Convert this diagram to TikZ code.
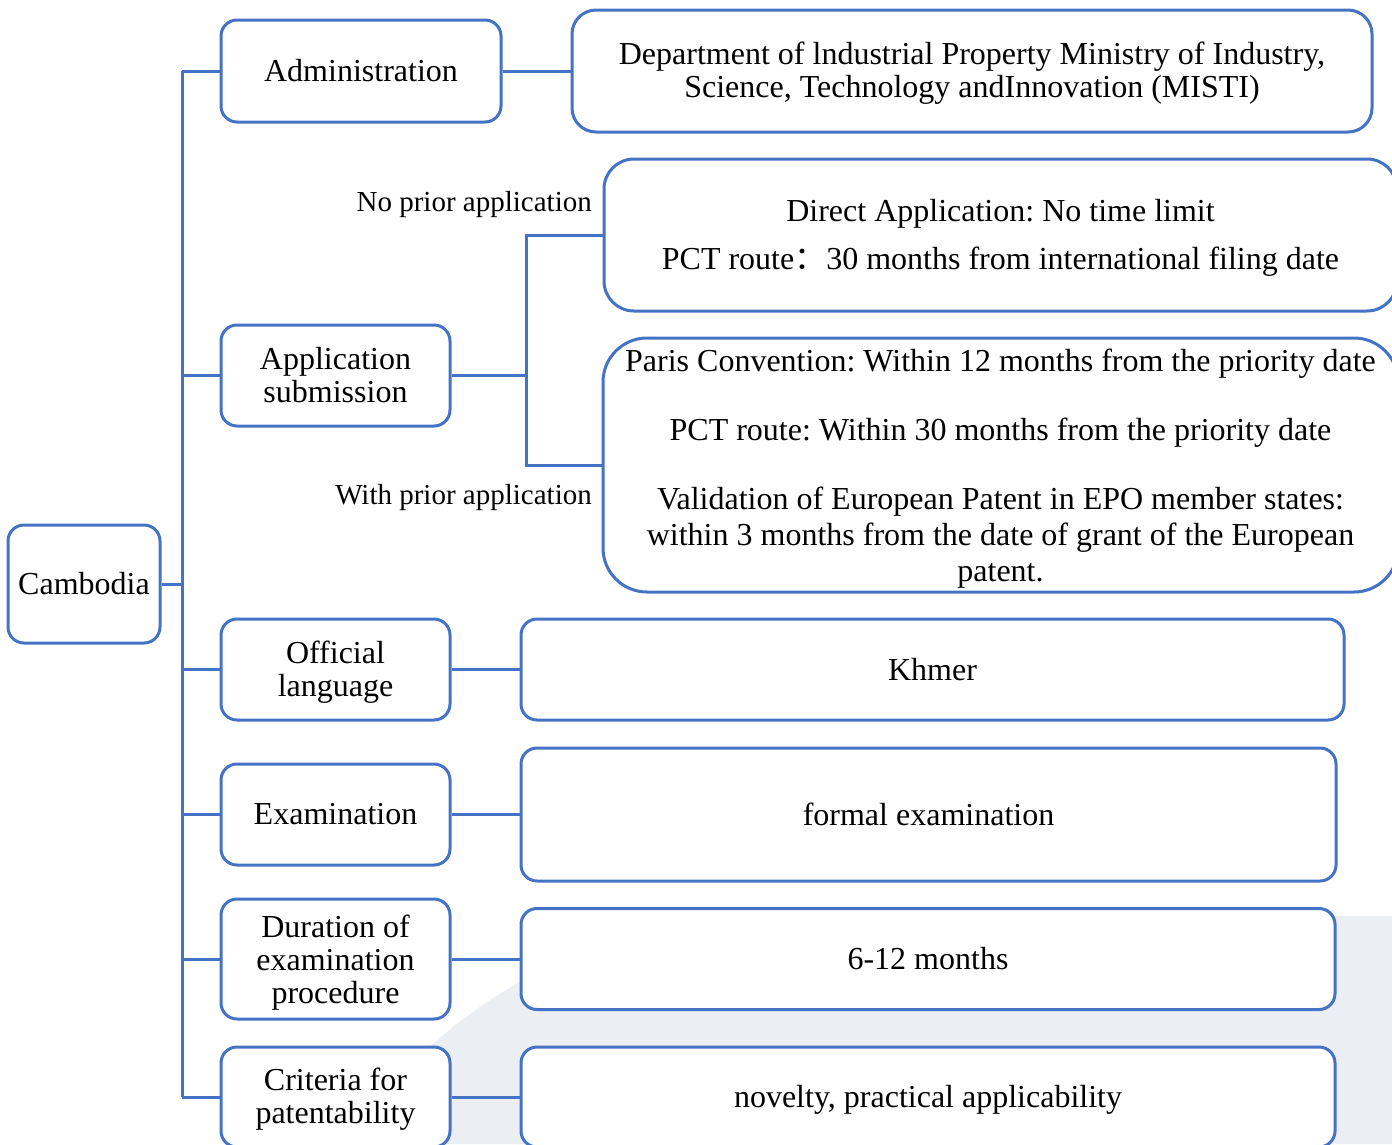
\documentclass[tikz,border=0pt]{standalone}
\usepackage{fontspec}
\setmainfont{Liberation Serif}
\newfontfamily\cjk{Noto Sans CJK SC}
\frenchspacing
\newcommand\topstrut[1]{\rule{0pt}{#1pt}}
\definecolor{lineblue}{RGB}{68,114,196}
\definecolor{bggray}{RGB}{235,238,242}
\begin{document}
\begin{tikzpicture}[x=1pt,y=-1pt,
  box/.style={draw=lineblue, line width=3pt, fill=white, rounded corners=16pt,
    align=center, inner sep=0pt, font=\fontsize{32}{33}\selectfont},
  conn/.style={draw=lineblue, line width=3pt},
  lbl/.style={inner sep=0pt, font=\fontsize{29}{33}\selectfont}]
\useasboundingbox (0,0) rectangle (1392,1144);
% background shape
\fill[bggray] (345,1144) .. controls (420,1030) and (570,916) .. (770,916) -- (1392,916) -- (1392,1144) -- cycle;
% nodes
\node[box, minimum width=152pt, minimum height=118pt] (cam) at (84,584) {Cambodia};
\node[box, minimum width=280pt, minimum height=102pt] (admin) at (361,71) {Administration};
\node[box, minimum width=800pt, minimum height=122pt, rounded corners=24pt] (dept) at (972,71)
  {\topstrut{26}Department of lndustrial Property Ministry of Industry,\\Science, Technology andInnovation (MISTI)};
\node[box, minimum width=229pt, minimum height=101pt] (app) at (335.5,375.5) {Application\\submission};
\node[box, minimum width=793pt, minimum height=152pt, rounded corners=30pt] (direct) at (1000.5,235)
  {\topstrut{28}Direct Application: No time limit\\[15pt]PCT route{\cjk ：}30 months from international filing date};
\node[box, minimum width=795pt, minimum height=254pt, rounded corners=44pt,
  font=\fontsize{32}{36}\selectfont] (paris) at (1000.5,465)
  {\topstrut{30}Paris Convention: Within 12 months from the priority date\\[33pt]PCT route: Within 30 months from the priority date\\[33pt]Validation of European Patent in EPO member states:\\within 3 months from the date of grant of the European\\patent.};
\node[box, minimum width=229pt, minimum height=101pt] (off) at (335.5,669.5) {\topstrut{27}Official\\language};
\node[box, minimum width=823pt, minimum height=101pt] (khmer) at (932.5,669.5) {Khmer};
\node[box, minimum width=229pt, minimum height=101pt] (exam) at (335.5,814.5) {Examination};
\node[box, minimum width=815pt, minimum height=133pt] (formal) at (928.5,814.5) {formal examination};
\node[box, minimum width=229pt, minimum height=120pt] (dur) at (335.5,959) {\topstrut{30}Duration of\\examination\\procedure};
\node[box, minimum width=814pt, minimum height=101pt] (months) at (928,959) {6-12 months};
\node[box, minimum width=229pt, minimum height=100pt] (crit) at (335.5,1097) {\topstrut{26}Criteria for\\patentability};
\node[box, minimum width=814pt, minimum height=100pt] (nov) at (928,1097) {\topstrut{28}novelty, practical applicability};
% labels
\node[lbl, anchor=east] (nolbl) at (592,205) {No prior application};
\node[lbl, anchor=east] (withlbl) at (592,498) {With prior application};
% connectors
\coordinate (trunk) at (182,0);
\coordinate (br) at (526,0);
\draw[conn] (cam.east) -- (cam.east -| trunk);
\draw[conn] (admin.west -| trunk) -- (crit.west -| trunk);
\foreach \n in {admin,app,off,exam,dur,crit} \draw[conn] (\n.west -| trunk) -- (\n.west);
\draw[conn] (admin.east) -- (dept.west);
\draw[conn] (app.east) -- (app.east -| br);
\draw[conn] (direct.west) -- (direct.west -| br) -- (paris.west -| br) -- (paris.west);
\draw[conn] (off.east) -- (khmer.west);
\draw[conn] (exam.east) -- (formal.west);
\draw[conn] (dur.east) -- (months.west);
\draw[conn] (crit.east) -- (nov.west);
\end{tikzpicture}
\end{document}
